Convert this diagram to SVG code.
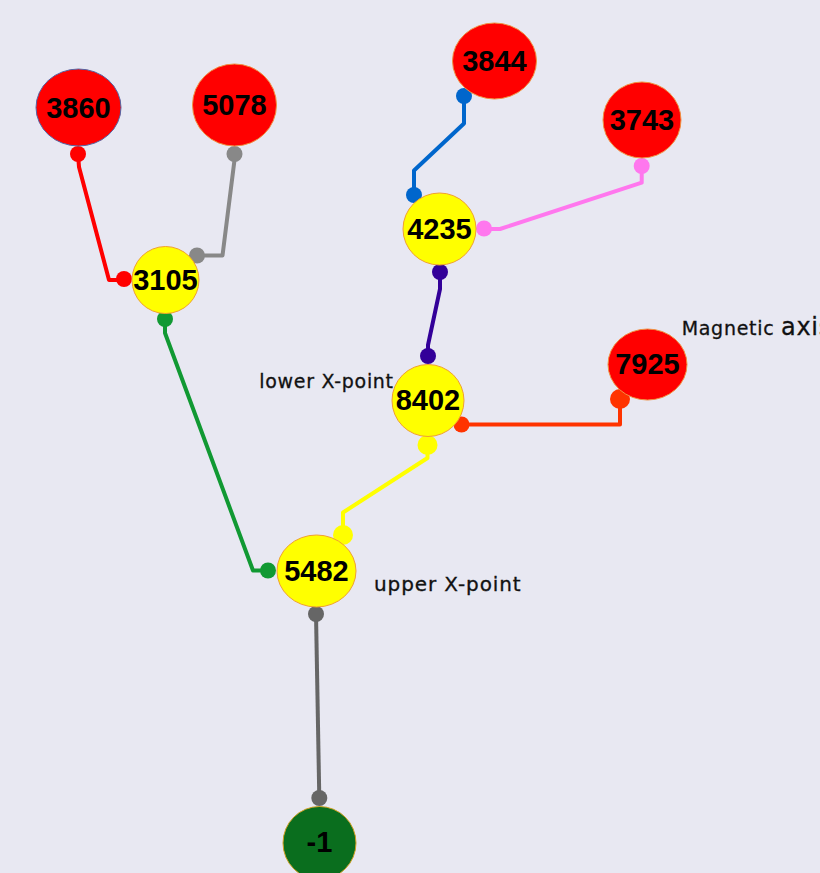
<svg xmlns="http://www.w3.org/2000/svg" width="820" height="873" viewBox="0 0 820 873">
<style>
.nl{font-family:"Liberation Sans",Arial,sans-serif;font-weight:bold;font-size:29px;fill:#000;text-anchor:middle}
.lb{font-family:"DejaVu Sans",Verdana,sans-serif;font-size:19px;fill:#111;letter-spacing:0.7px;stroke:#111;stroke-width:0.3px}
.red{fill:#ff0000;stroke:#f09040;stroke-width:1}
.yel{fill:#ffff00;stroke:#f0a030;stroke-width:1}
.c{fill:none;stroke-width:4;stroke-linejoin:round}
</style>
<rect width="820" height="873" fill="#e8e8f2"/>
<g id="connectors">
  <polyline class="c" stroke="#ff0000" points="78,154 79,167 109,280 124,280"/>
  <circle cx="78" cy="154" r="8" fill="#ff0000"/><circle cx="124" cy="279" r="8" fill="#ff0000"/>
  <polyline class="c" stroke="#888888" points="234.5,154 234.5,160 222.5,255.5 197,255.5"/>
  <circle cx="234.5" cy="154" r="8" fill="#888888"/><circle cx="197" cy="255.5" r="8" fill="#888888"/>
  <polyline class="c" stroke="#119933" stroke-width="3.5" points="165,319 165,333 253,570.5 268,570.5"/>
  <circle cx="165" cy="319" r="8" fill="#119933"/><circle cx="268" cy="570.5" r="8" fill="#119933"/>
  <polyline class="c" stroke="#0066cc" points="464,96.5 464,123.5 414,170.5 414,195"/>
  <circle cx="464" cy="96" r="8" fill="#0066cc"/><circle cx="414" cy="195" r="8" fill="#0066cc"/>
  <polyline class="c" stroke="#ff77ee" points="641.7,166 641.7,182.7 500,229 484,229"/>
  <circle cx="641.7" cy="166" r="8" fill="#ff77ee"/><circle cx="484" cy="228.5" r="8" fill="#ff77ee"/>
  <polyline class="c" stroke="#330099" points="440,272 440,289 428,345 428,356"/>
  <circle cx="440" cy="272" r="8" fill="#330099"/><circle cx="428" cy="356" r="8" fill="#330099"/>
  <polyline class="c" stroke="#ff3300" points="461.5,424.5 620,424.5 620,399"/>
  <circle cx="461.5" cy="424.5" r="8" fill="#ff3300"/><circle cx="620" cy="399" r="10" fill="#ff3300"/>
  <polyline class="c" stroke="#ffff00" stroke-width="6" points="427.5,445 427.5,458 343,512.5 343,535"/>
  <circle cx="427.5" cy="445" r="10" fill="#ffff00"/><circle cx="343" cy="535" r="10" fill="#ffff00"/>
  <polyline class="c" stroke="#666666" points="316,614 319.3,798"/>
  <circle cx="316" cy="614" r="8" fill="#666666"/><circle cx="319.3" cy="798" r="8" fill="#666666"/>
</g>
<g id="n3860"><ellipse cx="78.5" cy="107.5" rx="42.5" ry="38.5" fill="#ff0000" stroke="#5565a5" stroke-width="1"/><text class="nl" x="78.5" y="117.5">3860</text></g>
<g id="n5078"><ellipse class="red" cx="234.5" cy="105" rx="42" ry="41"/><text class="nl" x="234.5" y="115">5078</text></g>
<g id="n3105"><circle class="yel" cx="165.5" cy="280" r="33.5"/><text class="nl" x="165.5" y="290">3105</text></g>
<g id="n3844"><ellipse class="red" cx="494.5" cy="61" rx="42" ry="38"/><text class="nl" x="494.5" y="71">3844</text></g>
<g id="n3743"><ellipse class="red" cx="642" cy="120" rx="39" ry="38"/><text class="nl" x="642" y="130">3743</text></g>
<g id="n4235"><ellipse class="yel" cx="439.5" cy="229" rx="36.5" ry="36"/><text class="nl" x="439.5" y="239">4235</text></g>
<g id="n8402"><circle class="yel" cx="428" cy="400.5" r="36"/><text class="nl" x="428" y="410">8402</text></g>
<g id="n7925"><ellipse class="red" cx="647.5" cy="364.5" rx="39.5" ry="35.5"/><text class="nl" x="647.5" y="374">7925</text></g>
<g id="n5482"><ellipse class="yel" cx="316.5" cy="571" rx="39.5" ry="36"/><text class="nl" x="316.5" y="581">5482</text></g>
<g id="n-1"><circle cx="319.5" cy="843" r="36.5" fill="#0a6e1e" stroke="#d0a020" stroke-width="1"/><text class="nl" x="319.5" y="852">-1</text></g>
<g id="labels">
  <text class="lb" x="259.3" y="388.3">lower X-point</text>
  <text class="lb" x="374" y="591" style="font-size:20px;letter-spacing:0.9px">upper X-point</text>
  <text class="lb" x="681.7" y="335">Magnetic <tspan style="font-size:24px">axis</tspan></text>
</g>
</svg>
